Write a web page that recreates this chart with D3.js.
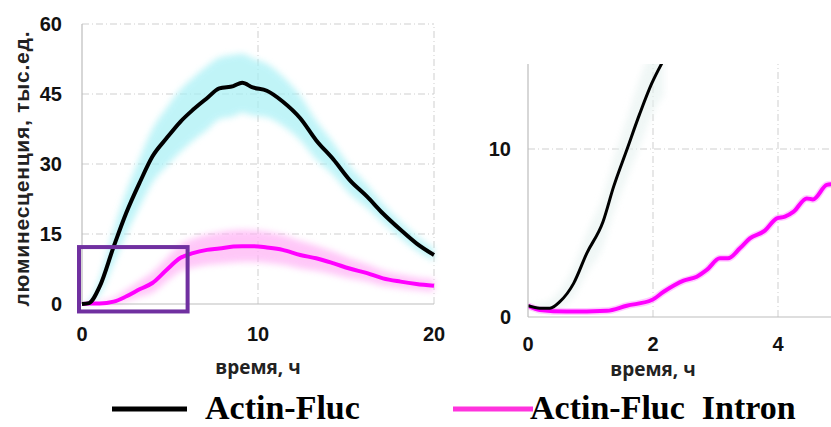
<!DOCTYPE html>
<html>
<head>
<meta charset="utf-8">
<script src="https://cdn.jsdelivr.net/npm/d3@7"></script>
<style>
  body { margin: 0; background: #fff; }
  .tick-lab { font-family: Arial, "Liberation Sans", sans-serif; font-weight: bold; font-size: 20px; fill: #111; }
  .ax-title { font-family: "Open Sans", Arial, sans-serif; font-weight: bold; font-size: 19px; fill: #222; }
  .legend { font-family: "Times New Roman", "Liberation Serif", serif; font-weight: bold; font-size: 34px; fill: #000; }
</style>
</head>
<body>
<div id="chart"></div>
<script>
// Full time course (left panel)
var timeFull = [0, 0.4, 1, 1.8, 2.5, 3.3, 4, 4.8, 5.6, 6.3, 7.1, 7.8, 8.6, 9.1, 9.7, 10.5, 11.4, 12.4, 13.3, 14.3, 15.2, 16.2, 17.1, 18.1, 19, 20];
var fluc      = [0, 0.2, 3.7, 12.3, 19.4, 26.2, 31.6, 35.5, 39.1, 41.6, 44.1, 46.2, 46.7, 47.4, 46.4, 45.7, 43.4, 39.8, 35.1, 30.9, 26.6, 23.0, 19.4, 15.9, 13.0, 10.5];
var flucUp    = [0, 0.6, 5.5, 16, 24, 31.5, 37.5, 42, 46, 48.5, 51, 52.8, 53.4, 53.6, 52.6, 51.5, 48.8, 44.6, 39.3, 34.4, 29.6, 25.5, 21.5, 17.7, 14.6, 11.9];
var flucLo    = [0, 0, 2, 8.6, 14.8, 21, 26, 29.5, 32.6, 35, 37.3, 39.6, 40.2, 41, 40.4, 40, 38.2, 35.1, 31, 27.5, 23.7, 20.6, 17.4, 14.2, 11.5, 9.2];
var intron    = [0, 0.1, 0.1, 0.5, 1.6, 3.2, 4.5, 7.3, 9.9, 10.9, 11.6, 11.9, 12.3, 12.4, 12.4, 12.1, 11.6, 10.5, 9.8, 8.7, 7.6, 6.6, 5.5, 4.8, 4.3, 3.9];
var intronUp  = [0, 0.4, 0.5, 1.3, 3, 5, 6.8, 9.8, 12.8, 14, 14.9, 15.4, 15.8, 15.9, 15.8, 15.5, 14.8, 13.5, 12.5, 11.2, 9.8, 8.5, 7.2, 6.3, 5.7, 5.3];
var intronLo  = [0, 0, 0, 0, 0.6, 1.6, 2.4, 4.8, 7, 7.8, 8.4, 8.6, 8.9, 9, 9, 8.8, 8.4, 7.6, 7.1, 6.3, 5.5, 4.8, 3.9, 3.4, 3, 2.6];

// First hours (right panel)
var timeZoomF = [0, 0.19, 0.35, 0.51, 0.73, 0.94, 1.2, 1.37, 1.58, 1.79, 1.98, 2.17];
var flucZoom  = [0.67, 0.52, 0.52, 0.91, 2.0, 3.79, 5.67, 7.76, 9.94, 12.12, 13.9, 15.3];
var flucZoomUp = [0.7, 0.8, 1.0, 1.6, 3.0, 5.0, 7.2, 9.4, 11.8, 14.2, 16, 17.5];
var flucZoomLo = [0.6, 0.4, 0.3, 0.5, 1.2, 2.6, 4.2, 6.2, 8.2, 10.2, 12, 13.2];
var timeZoomI = [0, 0.19, 0.62, 1.26, 1.58, 1.98, 2.17, 2.49, 2.7, 2.86, 3.07, 3.2, 3.39, 3.55, 3.79, 3.98, 4.11, 4.25, 4.46, 4.56, 4.78, 4.85];
var intronZoom = [0.67, 0.42, 0.32, 0.37, 0.67, 1.01, 1.5, 2.16, 2.4, 2.8, 3.49, 3.49, 4.09, 4.68, 5.14, 5.87, 5.97, 6.27, 7.06, 7.0, 7.86, 7.9];

var leftTicksX = [0, 10, 20];
var leftTicksY = [0, 15, 30, 45, 60];
var rightTicksX = [0, 2, 4];
var rightTicksY = [0, 10];

var legendNames = ['Actin-Fluc', 'Actin-Fluc  Intron'];
var legendColors = ['#000000', '#ff33dd'];

var width = 831, height = 427;
var svg = d3.select('#chart').append('svg')
    .attr('width', width)
    .attr('height', height);

// soft blur for the spread bands
var defs = svg.append('defs');
defs.append('filter').attr('id', 'soft')
    .attr('x', '-10%').attr('y', '-10%').attr('width', '120%').attr('height', '120%')
    .append('feGaussianBlur').attr('stdDeviation', 3);
defs.append('clipPath').attr('id', 'clipR')
    .append('rect').attr('x', 528).attr('y', 64).attr('width', 303).attr('height', 253);

var gridDash = '7,3,1,3';

// ---- left panel ----
var xL = d3.scaleLinear().domain([0, 20]).range([82, 434]);
var yL = d3.scaleLinear().domain([0, 60]).range([304, 24]);

var gL = svg.append('g');

gL.selectAll('.hgrid').data(leftTicksY.slice(1)).enter().append('line')
    .attr('x1', xL(0)).attr('x2', xL(20))
    .attr('y1', d => yL(d)).attr('y2', d => yL(d))
    .attr('stroke', '#cfcfcf').attr('stroke-width', 1).attr('stroke-dasharray', gridDash);
gL.selectAll('.vgrid').data(leftTicksX.slice(1)).enter().append('line')
    .attr('x1', d => xL(d)).attr('x2', d => xL(d))
    .attr('y1', yL(0)).attr('y2', yL(60))
    .attr('stroke', '#cfcfcf').attr('stroke-width', 1).attr('stroke-dasharray', gridDash);

// bands
function band(t, lo, up, xs, ys) {
    return d3.area()
        .x((d, i) => xs(t[i]))
        .y0((d, i) => ys(lo[i]))
        .y1((d, i) => ys(up[i]))
        .curve(d3.curveMonotoneX)(t);
}
function line(t, v, xs, ys) {
    return d3.line()
        .x((d, i) => xs(t[i]))
        .y((d, i) => ys(v[i]))
        .curve(d3.curveMonotoneX)(t);
}

gL.append('path').attr('d', band(timeFull, flucLo, flucUp, xL, yL))
    .attr('fill', '#a6f0f5').attr('opacity', 0.7).attr('filter', 'url(#soft)');
gL.append('path').attr('d', band(timeFull, intronLo, intronUp, xL, yL))
    .attr('fill', '#ffb0f5').attr('opacity', 0.7).attr('filter', 'url(#soft)');

// axes lines
gL.append('line').attr('x1', xL(0)).attr('x2', xL(0)).attr('y1', yL(0)).attr('y2', yL(60))
    .attr('stroke', '#bdbdbd').attr('stroke-width', 1.2);
gL.append('line').attr('x1', xL(0)).attr('x2', xL(20)).attr('y1', yL(0)).attr('y2', yL(0))
    .attr('stroke', '#bdbdbd').attr('stroke-width', 1.2);

gL.append('path').attr('d', line(timeFull, intron, xL, yL))
    .attr('fill', 'none').attr('stroke', '#ff00ff').attr('stroke-width', 4);
gL.append('path').attr('d', line(timeFull, fluc, xL, yL))
    .attr('fill', 'none').attr('stroke', '#000').attr('stroke-width', 4);

// zoom frame
gL.append('rect')
    .attr('x', xL(-0.17)).attr('y', yL(12.2))
    .attr('width', xL(6) - xL(-0.17)).attr('height', yL(-1.6) - yL(12.2))
    .attr('fill', 'none').attr('stroke', '#7030a0').attr('stroke-width', 4);

gL.selectAll('.ytl').data(leftTicksY).enter().append('text')
    .attr('class', 'tick-lab')
    .attr('x', 62).attr('y', d => yL(d) + 7)
    .attr('text-anchor', 'end')
    .attr('font-size', 21)
    .text(d => d);
gL.selectAll('.xtl').data(leftTicksX).enter().append('text')
    .attr('class', 'tick-lab')
    .attr('x', d => xL(d)).attr('y', 341)
    .attr('text-anchor', 'middle')
    .attr('font-size', 21)
    .text(d => d);

gL.append('text').attr('class', 'ax-title')
    .attr('x', 258).attr('y', 374).attr('text-anchor', 'middle')
    .text('время, ч');
gL.append('text').attr('class', 'ax-title')
    .attr('transform', 'translate(29,169) rotate(-90)')
    .attr('text-anchor', 'middle')
    .style('font-family', 'Arial, "Liberation Sans", sans-serif')
    .style('font-size', '21px')
    .attr('textLength', 275)
    .text('люминесценция, тыс.ед.');

// ---- right panel ----
var xR = d3.scaleLinear().domain([0, 4]).range([528, 778]);
var yR = d3.scaleLinear().domain([0, 10]).range([317, 149]);

var gR = svg.append('g');

gR.selectAll('.vgrid').data(rightTicksX.slice(1)).enter().append('line')
    .attr('x1', d => xR(d)).attr('x2', d => xR(d))
    .attr('y1', yR(0)).attr('y2', 64)
    .attr('stroke', '#cfcfcf').attr('stroke-width', 1).attr('stroke-dasharray', gridDash);
gR.selectAll('.hgrid').data(rightTicksY.slice(1)).enter().append('line')
    .attr('x1', xR(0)).attr('x2', width)
    .attr('y1', d => yR(d)).attr('y2', d => yR(d))
    .attr('stroke', '#cfcfcf').attr('stroke-width', 1).attr('stroke-dasharray', gridDash);

var gRc = gR.append('g').attr('clip-path', 'url(#clipR)');
gRc.append('path').attr('d', band(timeZoomF, flucZoomLo, flucZoomUp, xR, yR))
    .attr('fill', '#e6f2f0').attr('opacity', 0.6).attr('filter', 'url(#soft)');

gR.append('line').attr('x1', xR(0)).attr('x2', xR(0)).attr('y1', yR(0)).attr('y2', 64)
    .attr('stroke', '#bdbdbd').attr('stroke-width', 1.2);
gR.append('line').attr('x1', xR(0)).attr('x2', width).attr('y1', yR(0)).attr('y2', yR(0))
    .attr('stroke', '#bdbdbd').attr('stroke-width', 1.2);

gRc.append('path').attr('d', line(timeZoomI, intronZoom, xR, yR))
    .attr('fill', 'none').attr('stroke', '#ff99ff').attr('stroke-width', 7).attr('opacity', 0.5);
gRc.append('path').attr('d', line(timeZoomI, intronZoom, xR, yR))
    .attr('fill', 'none').attr('stroke', '#ff00ff').attr('stroke-width', 4);
gRc.append('path').attr('d', line(timeZoomF, flucZoom, xR, yR))
    .attr('fill', 'none').attr('stroke', '#000').attr('stroke-width', 3);

gR.selectAll('.ytl').data(rightTicksY).enter().append('text')
    .attr('class', 'tick-lab')
    .attr('x', 511).attr('y', d => yR(d) + 7)
    .attr('text-anchor', 'end')
    .text(d => d);
gR.selectAll('.xtl').data(rightTicksX).enter().append('text')
    .attr('class', 'tick-lab')
    .attr('x', d => xR(d)).attr('y', 351)
    .attr('text-anchor', 'middle')
    .text(d => d);
gR.append('text').attr('class', 'ax-title')
    .attr('x', 653).attr('y', 376).attr('text-anchor', 'middle')
    .text('время, ч');

// ---- legend ----
var legX = [112, 453];
var leg = svg.selectAll('.leg').data(legendNames).enter().append('g');
leg.append('line')
    .attr('x1', (d, i) => legX[i]).attr('x2', (d, i) => legX[i] + (i ? 80 : 75))
    .attr('y1', 409).attr('y2', 409)
    .attr('stroke', (d, i) => legendColors[i]).attr('stroke-width', 5);
leg.append('text').attr('class', 'legend')
    .attr('x', (d, i) => i ? 530 : 205).attr('y', 419)
    .attr('xml:space', 'preserve')
    .style('white-space', 'pre')
    .text(d => d);
</script>
</body>
</html>
